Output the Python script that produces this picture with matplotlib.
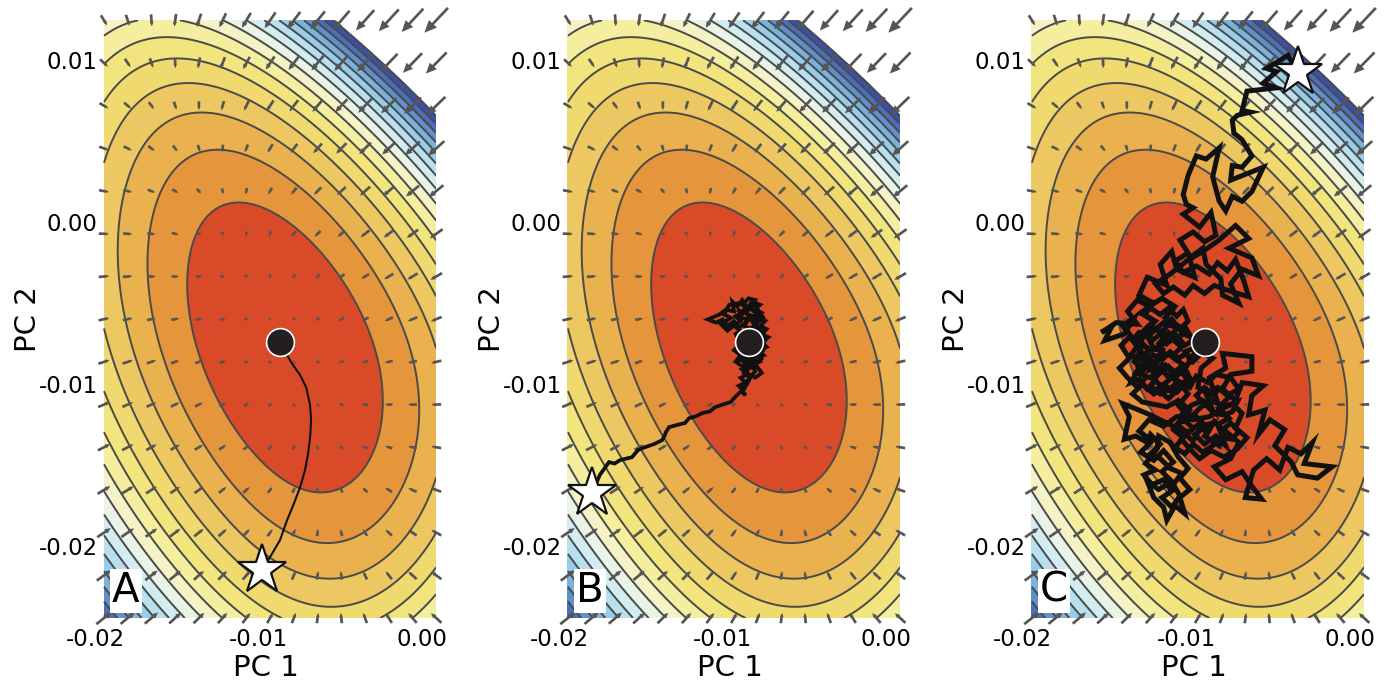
import numpy as np
import matplotlib.pyplot as plt
from matplotlib.colors import ListedColormap, BoundaryNorm

# region covered by the energy map (PC 1, PC 2)
field_x = (-0.01945, 0.00086)
field_y = (-0.02444, 0.01247)
view_x = (-0.0200, 0.00086)

# energy landscape (in level units, 1 = edge of the red core)
pot_center = (-0.0083, -0.0078)
pot_quad = (2.4, 0.7, 1.0)      # a, b, c of a*s^2 + 2b*s*t + c*t^2
pot_core = 0.718
pot_n = (0.64, 0.77)            # steep direction (towards upper right)
pot_m = (0.77, -0.64)           # long direction (towards lower right)
n_scale = (0.01015, 0.0145)     # quartic width, + side / - side
m_scale = (0.0131, 0.0189)
n_levels = 16
arrow_gamma = 0.6
arrow_max = 0.0021

band_colors = ['#d94b28', '#e5953b', '#e9b24f', '#edc862', '#f0d96f', '#f2e57e',
               '#f4ee9e', '#f5f3c6', '#e9f4e6', '#d3ecf1', '#b8e0ef', '#98cdea',
               '#7bb2dc', '#6090cc', '#4b6dbb', '#3b50a8']

# trajectories, in units of 1e-3
traj_a = [(-9.79, -21.48), (-9.30, -20.68), (-8.69, -19.63), (-8.26, -18.40), (-7.83, -17.35),
          (-7.46, -16.36), (-7.16, -15.31), (-6.97, -14.26), (-6.85, -13.27), (-6.79, -12.22),
          (-6.85, -11.30), (-7.09, -10.19), (-7.46, -9.44), (-7.89, -8.83), (-8.26, -8.21),
          (-8.62, -7.47)]

traj_b = [(-17.98, -16.73), (-17.5, -15.6), (-16.94, -14.81), (-16.6, -14.9), (-16.27, -14.69),
          (-15.9, -14.6), (-15.54, -14.51), (-15.17, -14.07), (-14.74, -13.89), (-14.19, -13.70),
          (-13.70, -13.46), (-13.55, -13.2), (-13.46, -12.96), (-13.27, -12.65), (-12.60, -12.47),
          (-12.3, -12.4), (-12.05, -12.10), (-11.62, -11.98), (-11.25, -11.79), (-10.76, -11.67),
          (-10.46, -11.42), (-9.91, -11.23), (-9.5, -11.1), (-9.24, -10.80), (-8.99, -10.56),
          (-8.7, -10.3), (-9.0, -10.1), (-8.6, -9.9), (-8.9, -9.6), (-8.5, -9.4), (-8.8, -9.1),
          (-8.3, -9.0), (-8.6, -8.7), (-8.1, -8.8), (-7.7, -8.6), (-8.0, -8.3), (-7.5, -8.2),
          (-7.8, -7.9), (-7.3, -7.7), (-7.6, -7.4), (-7.2, -7.1), (-7.6, -6.9), (-7.3, -6.6),
          (-7.7, -6.4), (-7.4, -6.1), (-7.9, -6.0), (-7.6, -5.6), (-8.1, -5.4), (-7.7, -5.1),
          (-8.2, -4.9), (-8.5, -5.3), (-8.8, -4.8), (-9.1, -5.2), (-9.4, -4.9), (-9.3, -5.5),
          (-9.8, -5.4), (-10.2, -5.7), (-10.9, -6.0), (-10.4, -6.2), (-10.0, -6.0), (-9.7, -6.4),
          (-9.3, -6.1), (-9.0, -6.5), (-8.6, -6.2), (-8.3, -5.8), (-8.0, -6.3), (-8.4, -6.7),
          (-8.1, -7.0), (-7.8, -7.3), (-8.2, -7.6), (-8.6, -7.9), (-9.0, -7.6), (-9.3, -7.9),
          (-8.9, -8.2), (-9.2, -8.6), (-8.8, -8.9), (-8.3, -8.5), (-7.9, -8.9), (-7.6, -9.3),
          (-8.0, -9.6), (-8.4, -9.4), (-8.6, -9.0), (-8.2, -8.2), (-7.9, -7.8), (-7.5, -7.5),
          (-7.9, -7.1), (-8.3, -7.4), (-8.7, -7.1), (-9.0, -7.3), (-9.2, -6.9), (-8.9, -6.7),
          (-9.3, -6.4), (-8.9, -6.1), (-9.2, -5.8), (-8.8, -5.6), (-9.1, -5.4), (-8.6, -5.6),
          (-8.3, -5.3), (-8.0, -5.6), (-7.8, -5.9), (-8.2, -6.1), (-7.9, -6.6), (-7.6, -6.4),
          (-7.5, -6.9), (-7.9, -7.1), (-7.5, -7.9), (-7.8, -8.2), (-8.1, -8.5), (-8.5, -8.2),
          (-8.7, -8.6), (-8.4, -8.9), (-8.7, -9.3), (-8.3, -9.6), (-8.5, -10.0), (-8.8, -10.4),
          (-8.6, -10.7), (-8.9, -10.2), (-8.5, -9.8), (-8.0, -9.2), (-8.2, -8.8), (-7.8, -8.6),
          (-8.1, -8.0), (-8.4, -7.6), (-8.0, -7.4), (-8.5, -7.0), (-8.2, -6.6), (-8.7, -6.4),
          (-8.4, -6.0), (-8.9, -5.9), (-8.6, -5.2), (-9.0, -5.0), (-9.6, -5.1), (-9.9, -5.7),
          (-9.5, -5.9), (-10.1, -6.3), (-9.7, -6.7), (-9.2, -6.3), (-8.8, -6.9), (-8.3, -6.9),
          (-7.9, -6.2), (-7.5, -5.9), (-7.9, -5.3), (-8.2, -5.1), (-8.0, -4.8), (-8.4, -4.7),
          (-8.7, -5.0), (-8.5, -5.7), (-8.1, -5.8), (-7.7, -6.8), (-7.4, -7.3), (-7.8, -7.6),
          (-7.6, -8.4), (-8.0, -8.7), (-8.4, -8.3), (-8.9, -8.5), (-8.6, -8.0), (-8.9, -7.8),
          (-8.5, -7.5)]

traj_c = [(-3.2, 9.3), (-3.8, 10.3), (-5.1, 9.5), (-4.5, 9.3), (-5.3, 8.6), (-4.5, 8.3),
          (-6.3, 8.1), (-6.6, 6.9), (-6.1, 6.8), (-6.9, 6.6), (-7.2, 6.3), (-7.1, 5.5),
          (-6.6, 5.1), (-6.0, 4.1), (-6.6, 3.4), (-7.2, 3.5), (-7.3, 2.6), (-5.3, 3.4),
          (-6.0, 1.9), (-6.6, 1.3), (-7.2, 1.6), (-7.6, 0.7), (-8.0, 1.3), (-8.4, 2.8),
          (-8.0, 4.6), (-8.8, 3.9), (-9.4, 4.1), (-9.9, 2.9), (-10.0, 2.5), (-10.2, 1.7),
          (-10.0, 1.1), (-9.6, 0.9), (-10.2, 0.5), (-9.2, -0.3), (-8.5, 0.6), (-8.2, -0.8),
          (-8.9, -1.2), (-9.6, -0.6), (-10.4, -1.1), (-9.9, -1.9), (-10.7, -2.4), (-10.2, -3.1),
          (-9.4, -2.7), (-8.6, -3.2), (-8.1, -2.5), (-7.5, -3.0), (-7.0, -2.3), (-6.5, -3.6),
          (-6.2, -4.6), (-7.2, -4.3), (-8.3, -3.9), (-8.9, -4.4), (-9.6, -3.9), (-10.1, -4.5),
          (-10.8, -4.0), (-11.4, -4.4), (-11.9, -3.8), (-11.0, -3.2), (-10.0, -2.4), (-9.0, -1.8),
          (-8.0, -1.1), (-7.0, -0.2), (-6.2, -1.0), (-7.4, -1.6), (-6.0, -2.2), (-5.6, -3.3), (-6.6, -2.9),
          (-7.3, -3.8), (-6.8, -5.0), (-7.8, -4.5), (-7.9, -3.5), (-8.8, -2.6), (-9.0, -1.6),
          (-9.8, -2.2), (-9.5, -3.4), (-10.6, -2.9), (-10.9, -1.8), (-11.6, -2.6), (-11.2, -3.9),
          (-12.4, -3.4), (-12.9, -4.5), (-12.0, -5.0), (-12.8, -5.6), (-11.9, -6.1), (-12.6, -6.9),
          (-11.7, -6.6), (-11.2, -7.4), (-12.1, -7.9), (-12.9, -7.5), (-13.4, -8.2), (-12.6, -8.6),
          (-13.1, -9.3), (-12.2, -9.6), (-11.6, -9.0), (-11.0, -9.7), (-11.8, -10.3), (-11.1, -10.9),
          (-10.4, -10.2), (-10.9, -9.4), (-10.2, -8.8), (-10.9, -8.3), (-10.3, -7.7), (-11.0, -7.1),
          (-10.5, -6.4), (-11.3, -5.9), (-10.7, -5.2), (-11.5, -4.7), (-12.3, -5.2), (-13.0, -4.8),
          (-13.6, -5.5), (-13.0, -6.3), (-14.3, -6.2), (-15.2, -6.8), (-14.6, -6.5), (-15.0, -7.3),
          (-13.8, -6.9), (-13.2, -5.9), (-13.9, -6.4), (-13.4, -7.0), (-14.0, -7.6), (-13.5, -8.4),
          (-14.1, -9.0), (-13.6, -9.6), (-13.0, -10.2), (-12.5, -9.6), (-12.9, -9.0), (-12.3, -8.9),
          (-11.8, -9.5), (-12.2, -10.1), (-11.6, -10.6), (-11.0, -10.3), (-10.6, -9.9), (-10.9, -9.1),
          (-11.5, -8.8), (-12.0, -9.2), (-13.2, -7.4), (-12.4, -7.0), (-12.0, -7.8), (-12.7, -8.2),
          (-11.9, -8.7), (-11.3, -8.2), (-11.7, -7.5), (-11.1, -6.8), (-10.6, -7.3), (-10.0, -6.6),
          (-9.6, -7.3), (-10.1, -7.6), (-10.6, -7.0), (-11.2, -7.5), (-11.6, -6.9), (-12.1, -7.3),
          (-12.5, -6.6), (-12.0, -6.1), (-12.6, -5.7), (-12.2, -5.3), (-11.6, -5.7), (-11.1, -5.3),
          (-10.6, -5.8), (-10.2, -5.4), (-9.9, -6.1), (-10.4, -6.6), (-10.9, -6.4), (-11.4, -6.2),
          (-11.9, -6.6), (-12.3, -7.0), (-12.9, -6.8), (-13.3, -7.3), (-12.8, -7.9), (-13.2, -8.6),
          (-12.6, -9.1), (-12.1, -8.6), (-11.6, -9.3), (-11.1, -8.9), (-10.6, -9.4), (-10.1, -9.0),
          (-9.8, -9.6), (-10.3, -10.0), (-10.8, -10.5), (-11.4, -10.2), (-11.9, -9.8), (-12.4, -10.3),
          (-12.9, -9.7), (-13.4, -9.9), (-13.0, -9.2), (-12.5, -8.4), (-12.0, -8.2), (-11.5, -8.5),
          (-11.0, -8.0), (-10.5, -8.4), (-10.0, -8.1), (-9.6, -8.6), (-9.2, -8.2), (-9.6, -7.8),
          (-10.1, -8.0), (-9.7, -8.6), (-10.4, -9.1), (-9.9, -9.8), (-10.6, -10.5), (-11.3, -10.1),
          (-12.0, -10.6), (-12.7, -10.0), (-13.3, -10.6), (-12.7, -11.1), (-11.2, -11.4),
          (-10.5, -11.0), (-9.8, -11.6), (-10.2, -12.3), (-9.4, -12.0), (-8.8, -12.6), (-9.5, -13.1),
          (-8.9, -13.7), (-8.2, -13.2), (-7.6, -13.8), (-8.1, -12.5), (-7.4, -12.1), (-8.0, -11.5),
          (-7.2, -11.2), (-6.6, -11.8), (-7.0, -12.7), (-6.3, -13.3), (-6.9, -14.0), (-7.7, -14.5),
          (-8.5, -14.1), (-9.2, -14.6), (-9.8, -14.0), (-10.3, -13.4), (-9.6, -12.7), (-10.4, -12.0),
          (-9.7, -11.3), (-9.0, -11.0), (-8.4, -11.6), (-8.8, -10.6), (-8.1, -10.2), (-7.5, -10.7),
          (-6.8, -10.3), (-7.3, -9.6), (-8.2, -9.4), (-8.7, -9.9), (-9.4, -9.5), (-9.8, -10.2),
          (-10.5, -9.8), (-9.9, -10.6), (-10.5, -11.3), (-10.0, -11.9), (-10.6, -12.5), (-9.9, -13.0),
          (-9.3, -12.5), (-8.7, -13.0), (-8.3, -12.3), (-7.8, -12.8), (-7.3, -12.4), (-6.8, -12.9),
          (-7.2, -13.4), (-7.9, -13.3), (-8.4, -13.8), (-9.0, -14.2), (-9.6, -13.7), (-10.1, -14.3),
          (-10.7, -13.9), (-10.2, -13.3), (-10.8, -12.8), (-10.3, -12.2), (-9.6, -11.9), (-9.1, -11.4),
          (-8.5, -11.0), (-7.9, -11.3), (-7.4, -10.8), (-7.8, -10.2), (-8.4, -10.6), (-8.9, -10.2),
          (-9.4, -10.7), (-8.9, -11.2), (-8.3, -11.8), (-7.7, -11.9), (-7.2, -11.7), (-6.9, -11.1),
          (-7.6, -11.4), (-8.6, -12.0), (-9.6, -12.2), (-10.6, -12.0),
          (-11.4, -12.6), (-12.3, -12.2), (-12.9, -12.9), (-12.1, -13.5),
          (-12.8, -14.2), (-12.0, -14.7), (-11.4, -14.1), (-10.8, -14.8), (-11.5, -15.4),
          (-10.9, -16.0), (-11.7, -16.5), (-12.4, -16.0), (-12.0, -17.0), (-11.4, -17.6),
          (-11.2, -18.4), (-10.7, -17.5), (-10.1, -18.0), (-10.4, -17.0), (-9.8, -16.5),
          (-10.4, -15.8), (-9.9, -15.2), (-10.5, -14.5), (-11.0, -13.6), (-11.7, -13.2),
          (-11.8, -14.0), (-12.5, -14.9), (-11.9, -15.3), (-12.6, -15.6), (-12.1, -16.2),
          (-11.4, -15.9), (-10.9, -16.6), (-11.5, -17.0), (-10.9, -17.6), (-10.4, -16.9),
          (-10.8, -16.2), (-10.3, -15.5), (-11.0, -15.2), (-11.6, -14.6), (-12.2, -14.3),
          (-11.6, -13.7), (-12.2, -13.1),
          (-12.4, -13.6), (-13.1, -13.2), (-13.8, -13.4), (-13.5, -12.0), (-13.9, -11.2),
          (-12.9, -11.6), (-12.2, -11.9), (-11.2, -12.4), (-10.4, -12.8), (-9.6, -13.5),
          (-9.1, -12.6), (-8.4, -12.4), (-8.9, -13.2), (-8.0, -13.8), (-7.6, -12.9), (-6.8, -13.6),
          (-7.3, -14.6), (-8.3, -15.1), (-7.6, -15.9), (-6.6, -15.4), (-6.0, -16.3), (-5.4, -17.1),
          (-6.4, -17.0), (-5.9, -15.3), (-5.1, -14.6), (-4.3, -15.3), (-3.8, -13.9), (-3.0, -14.3),
          (-2.3, -13.6), (-2.8, -14.9), (-1.1, -15.1), (-2.0, -15.8), (-3.2, -15.6), (-3.6, -14.8),
          (-4.6, -13.8), (-4.0, -12.8), (-4.9, -12.2), (-5.6, -13.1), (-5.2, -11.6), (-6.2, -11.9),
          (-6.0, -10.7), (-5.3, -10.1), (-6.6, -9.9), (-7.0, -11.0), (-7.8, -10.3), (-7.3, -9.4),
          (-6.0, -9.2), (-6.0, -8.3), (-7.8, -8.1), (-7.6, -9.0), (-8.6, -9.6), (-8.2, -10.8),
          (-9.3, -10.2), (-9.1, -9.0), (-8.4, -8.4), (-9.4, -7.9), (-10.0, -8.9), (-10.7, -9.6),
          (-11.3, -8.8), (-12.2, -9.1), (-11.5, -7.9), (-12.4, -7.8), (-13.0, -7.1), (-12.3, -6.4),
          (-11.5, -6.8), (-10.9, -6.0), (-10.2, -6.9), (-9.5, -7.2), (-8.9, -7.4)]

starts = [(-9.8, -21.5), (-18.0, -16.7), (-3.2, 9.3)]
ends = [(-8.69, -7.41), (-8.38, -7.41), (-8.87, -7.41)]
panel_letters = ['A', 'B', 'C']
traj_widths = [1.5, 2.7, 3.6]


def side_quartic(u, scales):
    return np.where(u > 0, (u / scales[0]) ** 4, (u / scales[1]) ** 4)


def energy(x, y):
    dx = x - pot_center[0]
    dy = y - pot_center[1]
    s = dx / 0.01
    t = dy / 0.01
    a, b, c = pot_quad
    q = (a * s * s + 2 * b * s * t + c * t * t) / pot_core
    n = pot_n[0] * dx + pot_n[1] * dy
    m = pot_m[0] * dx + pot_m[1] * dy
    return q + side_quartic(n, n_scale) + side_quartic(m, m_scale)


gx = np.linspace(field_x[0], field_x[1], 400)
gy = np.linspace(field_y[0], field_y[1], 600)
GX, GY = np.meshgrid(gx, gy)
E = energy(GX, GY)
levels = np.arange(n_levels + 1, dtype=float)
cmap = ListedColormap(band_colors)
norm = BoundaryNorm(levels, cmap.N)

# drift arrows on a 15 x 15 grid, drawn MATLAB style (head grows with the arrow)
qx = np.linspace(field_x[0], field_x[1], 15)
qy = np.linspace(field_y[0], field_y[1], 15)
QX, QY = np.meshgrid(qx, qy)
h = 1e-6
U = -(energy(QX + h, QY) - energy(QX - h, QY)) / (2 * h)
V = -(energy(QX, QY + h) - energy(QX, QY - h)) / (2 * h)
mag = np.hypot(U, V)
shrink = np.where(mag > 0, mag ** (arrow_gamma - 1), 0)
U = U * shrink
V = V * shrink
fit = arrow_max / np.hypot(U, V).max()
U = U * fit
V = V * fit
shaft_w = 0.000165

fig = plt.figure(figsize=(13.87, 6.87), dpi=100)
lefts = [0.0685, 0.4030, 0.7375]
trajs = [traj_a, traj_b, traj_c]

for i in range(3):
    ax = fig.add_axes([lefts[i], 0.1004, 0.2460, 0.870])
    ax.contourf(GX, GY, E, levels=levels, cmap=cmap, norm=norm)
    ax.contour(GX, GY, E, levels=levels[1:], colors='#4a4a4a', linewidths=1.4)
    for x0, y0, u, v in zip(QX.ravel(), QY.ravel(), U.ravel(), V.ravel()):
        ln = np.hypot(u, v)
        if ln < 1.2e-4:
            ax.plot(x0, y0, 'o', ms=1.8, color='#555555', mew=0, zorder=3)
            continue
        ax.arrow(x0 - u / 2, y0 - v / 2, u, v, width=shaft_w,
                 head_width=max(0.32 * ln, shaft_w * 1.05), head_length=0.36 * ln,
                 length_includes_head=True, color='#555555', lw=0, zorder=3,
                 clip_on=False)
    tr = np.array(trajs[i]) * 1e-3
    ax.plot(tr[:, 0], tr[:, 1], color='#111111', lw=traj_widths[i], zorder=4,
            solid_joinstyle='miter')
    ax.plot(ends[i][0] * 1e-3, ends[i][1] * 1e-3, 'o', ms=20, mfc='#231f20', mec='white',
            mew=1.2, zorder=5)
    ax.plot(starts[i][0] * 1e-3, starts[i][1] * 1e-3, '*', ms=37, mfc='white', mec='#111111',
            mew=1.6, zorder=6)
    ax.text(0.05, 0.012, panel_letters[i], transform=ax.transAxes, fontsize=29,
            ha='left', va='bottom', zorder=7,
            bbox=dict(facecolor='white', edgecolor='none', pad=1.5))
    ax.set_xlim(view_x)
    ax.set_ylim(field_y)
    ax.set_xticks([-0.02, -0.01, 0.0])
    ax.set_xticklabels(['-0.02', '-0.01', '0.00'])
    ax.set_yticks([-0.02, -0.01, 0.0, 0.01])
    ax.set_yticklabels(['-0.02', '-0.01', '0.00', '0.01'])
    ax.tick_params(axis='x', length=0, labelsize=16.5, pad=7)
    ax.tick_params(axis='y', length=0, labelsize=16.5, pad=-2)
    for sp in ax.spines.values():
        sp.set_visible(False)
    ax.set_xlabel('PC 1', fontsize=21, va='center')
    ax.xaxis.set_label_coords(0.5, -0.084)
    ax.set_ylabel('PC 2', fontsize=21, va='center')
    ax.yaxis.set_label_coords(-0.196, 0.5)

fig.savefig('out.png', dpi=100)
